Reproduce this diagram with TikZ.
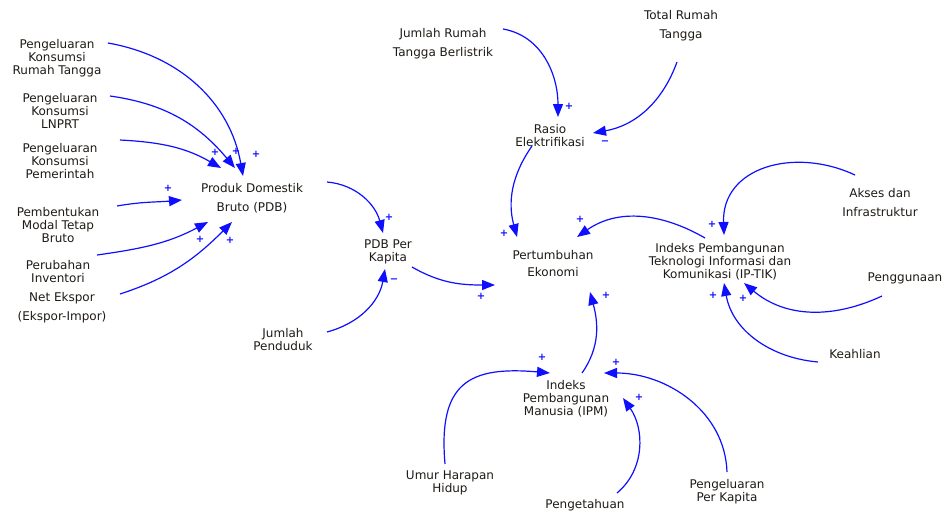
\documentclass[tikz,border=0pt]{standalone}
\usepackage{fontspec}
\setmainfont{DejaVu Sans}
\usetikzlibrary{arrows.meta,calc}
\definecolor{txt}{RGB}{30,26,22}
\definecolor{lnk}{RGB}{15,15,255}

\begin{document}
\begin{tikzpicture}[x=1pt,y=1pt]
  \tikzstyle{every node}=[align=center,inner sep=1pt,text=txt,
  font=\fontsize{12}{13}\selectfont]
  \tikzstyle{wide}=[font=\fontsize{12}{19}\selectfont]
  \tikzstyle{link}=[draw=lnk,line width=1.2pt,
  -{Triangle[length=13pt,width=10pt]}]
  \tikzstyle{sign}=[text=lnk,inner sep=0pt,
  font=\fontsize{10}{10}\selectfont\bfseries]

  \useasboundingbox (0,0) rectangle (944,-512);

  \node (pkrt) at (57,-58) {Pengeluaran\\Konsumsi\\Rumah Tangga};
  \node (lnprt) at (60,-111) {Pengeluaran\\Konsumsi\\LNPRT};
  \node (pemerintah) at (60,-161) {Pengeluaran\\Konsumsi\\Pemerintah};
  \node (pmtb) at (58,-225) {Pembentukan\\Modal Tetap\\Bruto};
  \node (inventori) at (58,-272) {Perubahan\\Inventori};
  \node[wide] (ekspor) at (62,-308) {Net Ekspor\\(Ekspor-Impor)};
  \node[wide] (pdb) at (252,-198) {Produk Domestik\\Bruto (PDB)};
  \node (pdbpk) at (388,-252) {PDB Per\\Kapita};
  \node (penduduk) at (283,-340) {Jumlah\\Penduduk};
  \node[font=\fontsize{12}{17}\selectfont] (ekonomi) at (553,-264)
  {Pertumbuhan\\Ekonomi};
  \node (rasio) at (550,-136) {Rasio\\Elektrifikasi};
  \node[wide] (berlistrik) at (443,-44) {Jumlah Rumah\\Tangga Berlistrik};
  \node[wide] (totalrt) at (681,-26) {Total Rumah\\Tangga};
  \node (iptik) at (720,-262)
  {Indeks Pembangunan\\Teknologi Informasi dan\\Komunikasi (IP-TIK)};
  \node[wide] (akses) at (880,-203) {Akses dan\\Infrastruktur};
  \node (penggunaan) at (905,-278) {Penggunaan};
  \node (keahlian) at (855,-354) {Keahlian};
  \node (ipm) at (566,-399) {Indeks\\Pembangunan\\Manusia (IPM)};
  \node (umur) at (450,-483) {Umur Harapan\\Hidup};
  \node (pengetahuan) at (585,-505) {Pengetahuan};
  \node (ppk) at (727,-492) {Pengeluaran\\Per Kapita};

  \draw[link] ($(pkrt)+(51,15)$) to[out=-10,in=100] ($(pdb)+(-9,22)$);
  \draw[link] ($(lnprt)+(50,15)$) to[out=-8,in=130] ($(pdb)+(-17,30)$);
  \draw[link] ($(pemerintah)+(60,21)$) to[out=-3,in=150] ($(pdb)+(-31,30)$);
  \draw[link] ($(pmtb)+(59,19)$) to[out=10,in=185] ($(pdb)+(-70,-2)$);
  \draw[link] ($(inventori)+(39,17)$) to[out=8,in=-152] ($(pdb)+(-44,-24)$);
  \draw[link] ($(ekspor)+(58,14)$) to[out=18,in=-135] ($(pdb)+(-20,-24)$);
  \draw[link] ($(pdb)+(75,16)$) to[out=-5,in=105] ($(pdbpk)+(-5,19)$);
  \draw[link] ($(penduduk)+(44,8)$) to[out=15,in=-100] ($(pdbpk)+(-3,-17)$);
  \draw[link] ($(pdbpk)+(24,-15)$) to[out=-30,in=180] ($(ekonomi)+(-58,-21)$);
  \draw[link] ($(rasio)+(-18,-10)$) to[out=-125,in=105] ($(ekonomi)+(-36,27)$);
  \draw[link] ($(berlistrik)+(60,15)$) to[out=-10,in=90] ($(rasio)+(8,19)$);
  \draw[link] ($(totalrt)+(-4,-36)$) to[out=-110,in=10] ($(rasio)+(43,3)$);
  \draw[link] ($(iptik)+(-15,24)$) to[out=150,in=35] ($(ekonomi)+(24,27)$);
  \draw[link] ($(akses)+(-25,28)$) to[out=155,in=92,looseness=1.2] ($(iptik)+(4,27)$);
  \draw[link] ($(penggunaan)+(-23,-18)$) to[out=-155,in=-40] ($(iptik)+(24,-21)$);
  \draw[link] ($(keahlian)+(-37,-8)$) to[out=175,in=-80] ($(iptik)+(4,-21)$);
  \draw[link] ($(ipm)+(16,26)$) to[out=55,in=-75] ($(ekonomi)+(37,-28)$);
  \draw[link] ($(umur)+(-5,19)$) to[out=95,in=175,looseness=1.5] ($(ipm)+(-16,26)$);
  \draw[link] ($(pengetahuan)+(32,12)$) to[out=40,in=-55] ($(ipm)+(57,1)$);
  \draw[link] ($(ppk)+(0,20)$) to[out=92,in=0] ($(ipm)+(38,26)$);

  \foreach \x/\y/\s [count=\i] in {256/154/+,236/151/+,215/152/+,168/188/+,
    200/239/+,230/240/+,389/217/+,394/281/−,481/296/+,504/233/+,
    569/106/+,605/143/−,580/219/+,712/224/+,743/298/+,713/295/+,
    606/295/+,542/357/+,639/397/+,616/362/+}
    \node[sign] (s\i) at (\x,-\y) {\s};
\end{tikzpicture}
\end{document}
